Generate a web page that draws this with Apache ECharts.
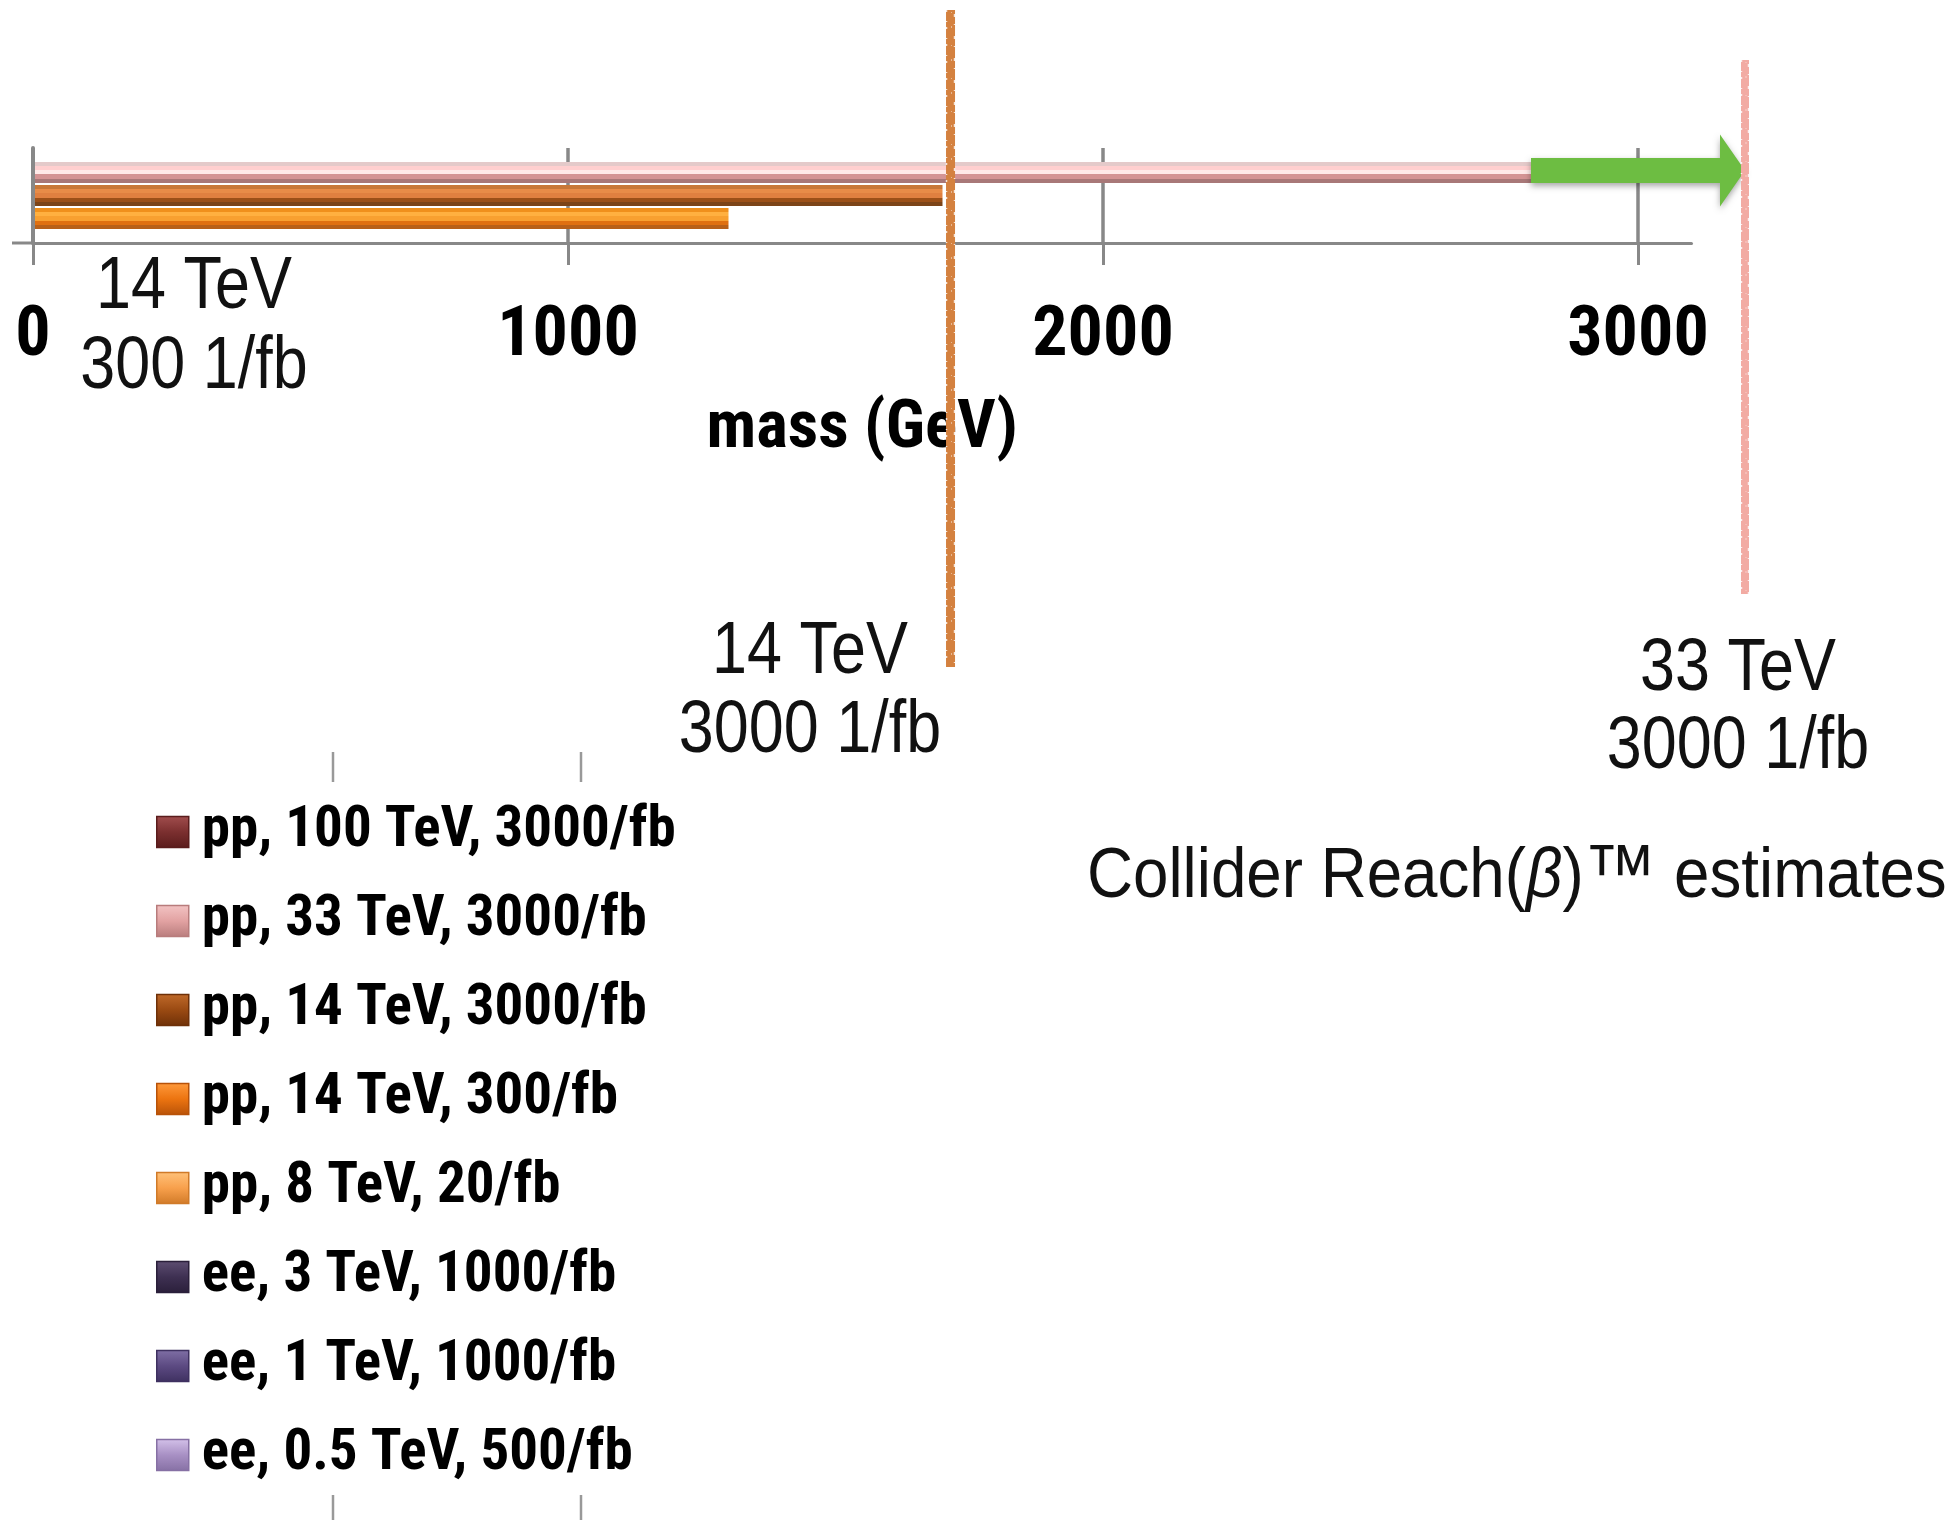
<!DOCTYPE html>
<html>
<head>
<meta charset="utf-8">
<script src="https://cdn.jsdelivr.net/npm/echarts@6/dist/echarts.min.js"></script>
<style>
html, body { margin: 0; padding: 0; background: #ffffff; }
#chart { width: 1947px; height: 1520px; }
</style>
</head>
<body>
<div id="chart"></div>
<script>
// Collider reach in resonance mass (GeV), one bar per machine scenario
const seriesNames = [
  'pp, 100 TeV, 3000/fb',
  'pp, 33 TeV, 3000/fb',
  'pp, 14 TeV, 3000/fb',
  'pp, 14 TeV, 300/fb',
  'pp, 8 TeV, 20/fb',
  'ee, 3 TeV, 1000/fb',
  'ee, 1 TeV, 1000/fb',
  'ee, 0.5 TeV, 500/fb'
];
const reachValues = [null, 2800, 1700, 1300, null, null, null, null];
const categories = ['mass'];
const massTicks = [0, 1000, 2000, 3000];
const massMin = 0;
const massMax = 3100;
// hand-drawn reach markers
const marker14TeV = 1715;
const marker33TeV = 3200;
const arrowFrom = 2800;

const FONT_BOLD = "'Roboto Condensed', 'Liberation Sans', Arial, sans-serif";
const FONT_THIN = "'Liberation Sans', Arial, sans-serif";

// legend swatch shades: light, mid, dark
const swatchShades = [
  ['#a24e4e', '#7b2f2f', '#5a1c1c'],
  ['#f3c4c4', '#e2a2a2', '#b87c7c'],
  ['#c06a2a', '#9a4a12', '#6e3008'],
  ['#ff9a3c', '#ec7410', '#b85208'],
  ['#ffc27a', '#f8a04c', '#d07a28'],
  ['#5e4e72', '#3e3052', '#2a1f3a'],
  ['#8070a6', '#5c4a82', '#3e3060'],
  ['#d4c2ea', '#a890c4', '#8670a4']
];
// bevelled bar bands, top to bottom
const barBands = {
  1: ['#e4caca', '#ffcfcf', '#ffe9e8', '#d49494', '#a87878'],
  2: ['#c87838', '#e88c48', '#e08040', '#9c5018', '#7c4418'],
  3: ['#f0901c', '#ffb040', '#f8a030', '#e07010', '#b86018']
};

const GRID_LEFT = 33, GRID_TOP = 148, GRID_BOTTOM_Y = 243;
const BAR_W = 21, BAR_GAP = 0.1;

function bandGradient(cols) {
  const cuts = [0, 0.2, 0.4, 0.6, 0.8, 1];
  const stops = [];
  cols.forEach((c, i) => {
    stops.push({ offset: cuts[i], color: c });
    stops.push({ offset: cuts[i + 1], color: c });
  });
  return new echarts.graphic.LinearGradient(0, 0, 0, 1, stops);
}
function swatchGradient(s) {
  return new echarts.graphic.LinearGradient(0, 0, 0, 1, [
    { offset: 0, color: s[0] }, { offset: 0.5, color: s[1] }, { offset: 1, color: s[2] }
  ]);
}

const chart = echarts.init(document.getElementById('chart'), null, { renderer: 'canvas' });

// scenarios without a drawn reach sit on a hidden grid so they only appear in the legend
const series = seriesNames.map((name, i) => {
  const drawn = reachValues[i] !== null;
  return {
    name: name, type: 'bar',
    xAxisIndex: drawn ? 0 : 1, yAxisIndex: drawn ? 0 : 1,
    barWidth: BAR_W, barGap: (BAR_GAP * 100) + '%',
    data: [reachValues[i]],
    itemStyle: {
      color: drawn ? bandGradient(barBands[i]) : swatchShades[i][1],
      shadowColor: 'rgba(110, 80, 50, 0.45)', shadowBlur: 4, shadowOffsetY: 5, shadowOffsetX: 1
    },
    emphasis: { disabled: true }, silent: true, animation: false
  };
});

const option = {
  animation: false,
  backgroundColor: '#ffffff',
  grid: [
    { left: GRID_LEFT, top: GRID_TOP, width: 1658.5, height: GRID_BOTTOM_Y - GRID_TOP, outerBoundsMode: 'none', containLabel: false },
    { left: 0, top: 0, width: 1, height: 1, show: false, outerBoundsMode: 'none', containLabel: false }
  ],
  xAxis: [
    {
      type: 'value', gridIndex: 0, min: massMin, max: massMax, interval: 1000,
      name: 'mass (GeV)', nameLocation: 'middle', nameGap: 154,
      nameTextStyle: { fontFamily: FONT_BOLD, fontWeight: 'bold', fontSize: 67, color: '#000' },
      axisLine: { show: true, lineStyle: { color: '#888888', width: 3 } },
      axisTick: { show: true, length: 22, customValues: massTicks, lineStyle: { color: '#888888', width: 3 } },
      axisLabel: {
        show: true, customValues: massTicks, margin: 59,
        formatter: v => String(v),
        fontFamily: FONT_BOLD, fontWeight: 'bold', fontSize: 70, color: '#000'
      },
      splitLine: { show: true, lineStyle: { color: '#888888', width: 3.5 } }
    },
    { type: 'value', gridIndex: 1, show: false }
  ],
  yAxis: [
    {
      type: 'category', gridIndex: 0, data: categories, z: 3,
      axisLine: { show: true, lineStyle: { color: '#888888', width: 4 } },
      axisTick: { show: false }, axisLabel: { show: false }, splitLine: { show: false }
    },
    { type: 'category', gridIndex: 1, data: categories, show: false }
  ],
  legend: {
    orient: 'vertical', left: 156, top: 803, padding: 0,
    itemWidth: 32, itemHeight: 31, itemGap: 31,
    icon: 'rect', selectedMode: false,
    textStyle: { fontFamily: FONT_BOLD, fontWeight: 'bold', fontSize: 57, lineHeight: 58, color: '#000', padding: [0, 0, 0, 8] },
    data: seriesNames.map((n, i) => ({
      name: n,
      itemStyle: { color: swatchGradient(swatchShades[i]), borderColor: swatchShades[i][2], borderWidth: 1.5 }
    }))
  },
  series: series
};

chart.setOption(option);

// annotation layer placed through the axis scales
const px = v => chart.convertToPixel({ xAxisIndex: 0 }, v);
const bandCenter = chart.convertToPixel({ yAxisIndex: 0 }, categories[0]);
const pinkCenter = bandCenter - (BAR_W + BAR_W * BAR_GAP);

function crayonLine(x, y0, y1, color, width) {
  return [
    { type: 'line', z: 100, shape: { x1: x, y1: y0, x2: x, y2: y1 }, style: { stroke: color, lineWidth: width } },
    { type: 'line', z: 101, shape: { x1: x - width / 2 + 0.5, y1: y0, x2: x - width / 2 + 0.5, y2: y1 }, style: { stroke: '#ffffff', lineWidth: 1.5, lineDash: [2, 9, 1, 5], opacity: 0.8 } },
    { type: 'line', z: 101, shape: { x1: x + width / 2 - 0.5, y1: y0 + 4, x2: x + width / 2 - 0.5, y2: y1 }, style: { stroke: '#ffffff', lineWidth: 1.5, lineDash: [3, 7, 1, 11], opacity: 0.8 } },
    { type: 'line', z: 101, shape: { x1: x + 1, y1: y0 + 2, x2: x + 1, y2: y1 - 2 }, style: { stroke: 'rgba(255,255,255,0.45)', lineWidth: 1, lineDash: [1, 13, 2, 17] } }
  ];
}

const ax0 = px(arrowFrom), ax1 = px(marker33TeV), cy = pinkCenter - 2;
const bodyH = 12.5, headH = 36, headL = 25;
const tickColor = '#999999';

function noteText(x, y, text, lineHeight) {
  return { type: 'text', z: 20, x: x, y: y, scaleX: 0.85,
    style: { text: text, fontFamily: FONT_THIN, fontSize: 74, lineHeight: lineHeight, fill: '#111', align: 'center', verticalAlign: 'middle' } };
}

const graphics = [
  { type: 'line', z: 5, shape: { x1: 12, y1: GRID_BOTTOM_Y, x2: px(0), y2: GRID_BOTTOM_Y }, style: { stroke: '#888888', lineWidth: 3 } },
  {
    type: 'polygon', z: 50,
    shape: { points: [
      [ax0, cy - bodyH], [ax1 - headL, cy - bodyH], [ax1 - headL, cy - headH], [ax1, cy],
      [ax1 - headL, cy + headH], [ax1 - headL, cy + bodyH], [ax0, cy + bodyH]
    ] },
    style: { fill: '#6dbd42', shadowBlur: 6, shadowColor: 'rgba(0,0,0,0.35)', shadowOffsetY: 3 }
  },
  // short scale ticks around the legend
  { type: 'line', shape: { x1: 333, y1: 752, x2: 333, y2: 782 }, style: { stroke: tickColor, lineWidth: 2.5 } },
  { type: 'line', shape: { x1: 581, y1: 752, x2: 581, y2: 782 }, style: { stroke: tickColor, lineWidth: 2.5 } },
  { type: 'line', shape: { x1: 333, y1: 1495, x2: 333, y2: 1520 }, style: { stroke: tickColor, lineWidth: 2.5 } },
  { type: 'line', shape: { x1: 581, y1: 1495, x2: 581, y2: 1520 }, style: { stroke: tickColor, lineWidth: 2.5 } },
  noteText(194, 328, '14 TeV\n300 1/fb', 80),
  noteText(810, 692, '14 TeV\n3000 1/fb', 79),
  noteText(1738, 709, '33 TeV\n3000 1/fb', 78),
  { type: 'text', z: 20, x: 1087, y: 878, scaleX: 0.91,
    style: {
      text: '{n|Collider Reach(}{b|β}{n|)}{t|™}{n| estimates}', align: 'left', verticalAlign: 'middle',
      rich: {
        n: { fontFamily: FONT_THIN, fontSize: 70, fill: '#111' },
        b: { fontFamily: FONT_THIN, fontSize: 70, fontStyle: 'italic', fill: '#111' },
        t: { fontFamily: FONT_THIN, fontSize: 80, fill: '#111' }
      }
    } }
].concat(
  crayonLine(px(marker14TeV), 10, 667, '#d4813f', 9),
  crayonLine(px(marker33TeV), 60, 594, '#f2aba3', 8)
);

chart.setOption({ graphic: graphics });
</script>
</body>
</html>
